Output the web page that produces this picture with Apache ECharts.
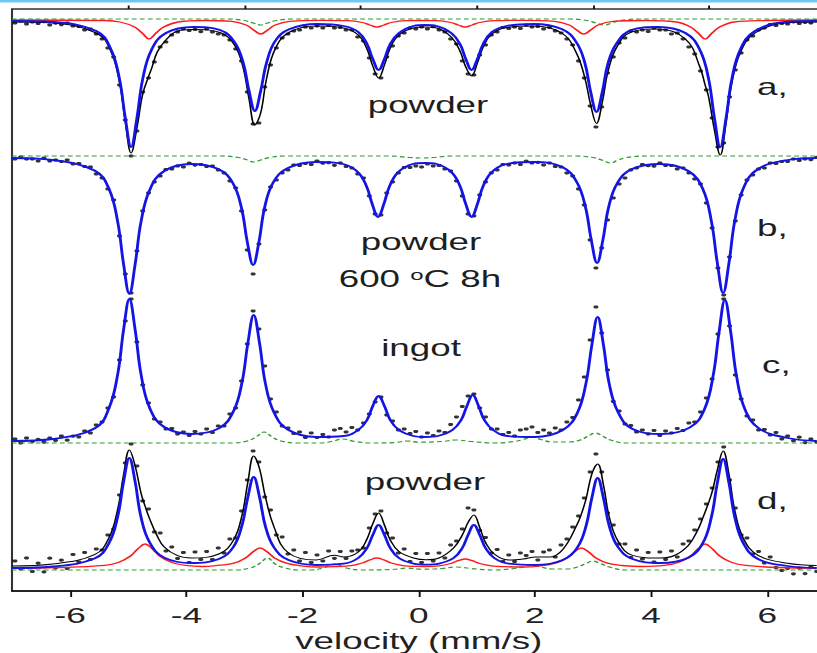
<!DOCTYPE html>
<html><head><meta charset="utf-8">
<script src="https://cdn.jsdelivr.net/npm/echarts@6.0.0/dist/echarts.min.js"></script>
<style>
html,body{margin:0;padding:0;width:817px;height:653px;overflow:hidden;background:#fff}
#wrap{width:817px;height:653px;overflow:hidden;position:relative}
#chart{width:511px;height:653px;transform:scaleX(1.598826);transform-origin:0 0}
</style></head><body><div id="wrap"><div id="chart"></div></div>
<script>
// ---------------- DATA ----------------
const xTicks = [-6, -4, -2, 0, 2, 4, 6];
const xMinorTicks = [-5, -3, -1, 1, 3, 5];
const panelLabels = ['a,', 'b,', 'c,', 'd,'];
const sampleLabels = ['powder', 'powder', '600 {s|o}C 8h', 'ingot', 'powder'];

const velocity = [-6.95,-6.85,-6.75,-6.65,-6.55,-6.45,-6.35,-6.25,-6.15,-6.05,-5.95,-5.85,-5.75,-5.65,-5.55,-5.45,-5.35,-5.25,-5.15,-5.05,-4.95,-4.85,-4.75,-4.65,-4.55,-4.45,-4.35,-4.25,-4.15,-4.05,-3.95,-3.85,-3.75,-3.65,-3.55,-3.45,-3.35,-3.25,-3.15,-3.05,-2.95,-2.85,-2.75,-2.65,-2.55,-2.45,-2.35,-2.25,-2.15,-2.05,-1.95,-1.85,-1.75,-1.65,-1.55,-1.45,-1.35,-1.25,-1.15,-1.05,-0.95,-0.85,-0.75,-0.65,-0.55,-0.45,-0.35,-0.25,-0.15,-0.05,0.05,0.15,0.25,0.35,0.45,0.55,0.65,0.75,0.85,0.95,1.05,1.15,1.25,1.35,1.45,1.55,1.65,1.75,1.85,1.95,2.05,2.15,2.25,2.35,2.45,2.55,2.65,2.75,2.85,2.95,3.05,3.15,3.25,3.35,3.45,3.55,3.65,3.75,3.85,3.95,4.05,4.15,4.25,4.35,4.45,4.55,4.65,4.75,4.85,4.95,5.05,5.15,5.25,5.35,5.45,5.55,5.65,5.75,5.85,5.95,6.05,6.15,6.25,6.35,6.45,6.55,6.65,6.75,6.85];

// panel a (powder) measured counts
const aCounts = [996,998,995,997,995.5,997.3,994,995.8,994.4,996,
993,992.5,989,990,985,980,971,962,934,899,
863,888,927,941,957,972,977,984,987,990,
988.5,989.5,987.3,990,987,985,984,979,970,958,
927,895,896,932,954,971,981,985,988,989,
992,991,993,991,993.5,991,991.5,989,989,982,
978,961,945,941,962,973,983,986,991,990,
992,990,992.3,989,987,980,975,958,945,944,
964,974,984,987,991.5,990.5,992,990.5,994,992,
992.5,990,991.5,988,986,980,974,958,941,913,
892,912,946,962,976,981,988,987,989,987.5,
991,989,989,985,986,980,972,965,948,929,
901,872,876,922,949,966,979,983,989,991,
994.5,993.5,995.5,995,997.2,995.5,996.7,996,998];

// panel b (powder 600 C 8h)
const bCounts = [997,999,997,997,995,998,995,996,994.5,996,
992,992.5,989.5,989,982,978,967,956,920,882,
863,905,945,963,974,980,986.5,987,990,989,
992.8,990.9,991.5,989.5,990,986,983,975,968,945,
906,882,912,946,969,976,983,986,991,990.5,
992.5,991.5,995,992.8,993.3,990.7,993,989.5,988,982,
978,960,942,941,963,974,983,988.5,988.5,990,
989,992,990,990.5,987,985,975,960,942,940,
961,974,983,986,991.5,991,993,991.5,994.8,993,
993.7,991,993,989.5,989,983,980,967,951,916,
888,908,936,958,972,978,986,988,991.5,990.3,
989.8,993,990.5,990.5,987,988,983,977,972,953,
928,888,861,899,935,961,976,981,987,988,
993,992.5,994.5,994.5,997,995.5,997,996.3,998.6];

// panel c (ingot)
const cCounts = [1004,1000,1005,1001.4,1003.6,1000.8,1005,1002.6,1007,1002.8,
1006.8,1006,1012,1010,1018,1021,1035,1046,1083,1122,
1144,1101,1058,1040,1024,1021,1014,1014.5,1009,1011,
1007.5,1011.5,1009,1014,1010.5,1017,1017,1029,1035,1062,
1099,1132,1114,1077,1044,1031,1017,1015,1009.5,1011,
1005.5,1010,1005.5,1008.5,1006,1013,1014.5,1011,1015.5,1013,
1020,1029,1041,1046,1028,1022,1013,1014,1009.5,1011.5,
1006,1010,1007.5,1012,1010.5,1018.5,1026,1036.5,1047,1049,
1035,1026,1014,1014,1008.5,1010.5,1007,1013,1014,1016,
1010.5,1013,1010,1015,1013,1021,1025.5,1043,1066,1103,
1136,1110,1073,1041.5,1032,1019,1017.5,1011,1013,1009,
1012.5,1007.5,1012,1010,1014.5,1012.5,1020,1021,1031,1045,
1064,1109,1144,1117,1068,1044,1027,1023,1013,1013.5,
1008,1010.5,1004,1007,1002.3,1005.8,1000.4,1004,1000.8];

// panel d (powder)
const dCounts = [1009,1001,1012,998.5,1006.8,998.2,1011.8,1002.2,1009.8,1001.5,
1015.5,1008,1017.5,1010.5,1021,1020,1035,1041,1075,1107,
1126,1104,1069,1061,1038,1037,1019,1023,1011.5,1017.5,
1007.5,1018,1010.5,1018.5,1010.5,1022,1017,1031,1032,1059,
1090,1119,1108,1073,1060,1035,1033,1016,1020,1009,
1017.5,1007.5,1015,1009,1019,1011.7,1018.5,1011.5,1019,1020,
1022,1042,1056,1059,1037,1032,1017,1021,1008.5,1016.5,
1007.5,1016.5,1009,1017,1012,1025,1029,1041,1062,1060,
1039.5,1032.5,1017,1020.5,1008.5,1015,1008.5,1017,1014.5,1018.5,
1010,1018,1020,1013,1025,1031,1043,1054,1072,1098,
1116,1098,1057,1045,1026,1026,1012.5,1020,1011,1017.5,
1008,1018,1010.5,1019,1013,1026,1029,1040,1051,1066,
1082,1108,1123,1090,1062,1035,1032,1016,1018.5,1007,
1013,1002.5,999.5,1001.7,996.2,1001.8,996.4,1003,998.5];

// fitted components [velocity, counts]
const aBlue = [[-7,998],[-6.3,997],[-5.55,988],[-5.3,970],[-5.15,940],[-5.05,901],[-4.95,872],[-4.85,901],[-4.75,940],[-4.6,969],[-4.35,986],[-3.88,992],[-3.42,989],[-3.17,977],[-3.02,956],[-2.92,928],[-2.82,908],[-2.72,928],[-2.62,956],[-2.47,978],[-2.22,990],[-1.75,995],[-1.29,993],[-1.04,987],[-0.89,975],[-0.79,960],[-0.69,949],[-0.59,960],[-0.49,975],[-0.34,986],[-0.09,993],[0.11,994],[0.31,993],[0.56,986],[0.71,975],[0.81,960],[0.91,949],[1.01,960],[1.11,975],[1.26,987],[1.51,993],[1.98,995],[2.46,990],[2.71,977],[2.86,956],[2.96,927],[3.06,907],[3.16,927],[3.26,956],[3.41,976],[3.66,989],[4.12,992],[4.59,986],[4.84,969],[4.99,940],[5.09,901],[5.19,872],[5.29,901],[5.39,940],[5.54,970],[5.79,988],[6.3,997],[6.85,998]];
const aRed = [[-7,999],[-5.4,998.5],[-5.14,997],[-4.89,992],[-4.76,986],[-4.64,980],[-4.52,986],[-4.39,992],[-4.14,997],[-3.7,998.5],[-3.22,997.6],[-2.97,994],[-2.84,989],[-2.72,985],[-2.6,989],[-2.47,994],[-2.22,997.6],[-1.7,998.7],[-1.22,998.3],[-0.97,996.5],[-0.84,994],[-0.72,992],[-0.6,994],[-0.47,996.5],[-0.22,998.3],[0.04,998.5],[0.3,998.3],[0.55,996.5],[0.68,994],[0.8,992],[0.92,994],[1.05,996.5],[1.3,998.3],[1.8,998.7],[2.34,997.6],[2.59,994],[2.72,989],[2.84,985],[2.96,989],[3.09,994],[3.34,997.6],[3.9,998.5],[4.43,997],[4.68,992],[4.81,986],[4.93,980],[5.05,986],[5.18,992],[5.43,997],[6.0,998.5],[6.85,999]];
const aGreen = [[-7,1000],[-3.3,1000],[-3.0,998.5],[-2.85,996],[-2.72,994],[-2.6,996],[-2.45,998.5],[-2.15,1000],[2.6,1000],[2.9,998.5],[3.05,996],[3.2,994],[3.32,996],[3.47,998.5],[3.8,1000],[6.85,1000]];
const aFit = [[-7,997],[-6.3,996],[-5.55,986],[-5.3,968],[-5.15,937],[-5.05,897],[-4.95,866],[-4.85,891],[-4.75,925],[-4.64,944],[-4.6,950],[-4.5,967],[-4.35,979],[-4.15,988],[-3.88,989.5],[-3.42,986.5],[-3.17,974],[-3.02,951],[-2.92,920],[-2.82,894],[-2.72,906],[-2.62,940],[-2.47,970],[-2.22,987],[-1.75,993],[-1.29,991],[-1.04,984],[-0.89,970],[-0.79,953],[-0.69,941],[-0.59,954],[-0.49,971],[-0.34,984],[-0.09,991],[0.11,992],[0.31,991],[0.56,982],[0.71,968],[0.81,952],[0.91,943],[1.01,956],[1.11,972],[1.26,985],[1.51,991.5],[1.98,993],[2.46,986],[2.71,966.5],[2.86,941],[2.96,914],[3.06,895.5],[3.16,917],[3.26,948],[3.41,972],[3.66,987],[4.12,990],[4.59,980],[4.84,952],[4.93,934],[4.99,922],[5.09,889],[5.19,864],[5.29,896],[5.39,936],[5.54,967],[5.79,986],[6.3,996],[6.85,997]];

const bBlue = [[-7,998],[-6.3,996],[-5.58,985.5],[-5.33,967],[-5.18,934],[-5.08,892],[-4.98,862],[-4.88,892],[-4.78,934],[-4.63,966],[-4.38,985],[-3.915,992],[-3.45,987],[-3.2,973],[-3.05,948],[-2.95,914],[-2.85,891],[-2.75,914],[-2.65,949],[-2.5,974],[-2.25,988],[-1.775,994],[-1.3,992],[-1.05,984],[-0.9,970],[-0.8,952],[-0.7,939],[-0.6,952],[-0.5,970],[-0.35,984],[-0.1,992],[0.105,993],[0.31,992],[0.56,984],[0.71,970],[0.81,952],[0.91,939],[1.01,952],[1.11,970],[1.26,984],[1.51,992],[1.99,994],[2.47,989],[2.72,974],[2.87,949],[2.97,916],[3.07,893],[3.17,916],[3.27,949],[3.42,973],[3.67,987],[4.155,992],[4.64,985],[4.89,967],[5.04,934],[5.14,893],[5.24,863],[5.34,893],[5.44,935],[5.59,968],[5.84,987],[6.35,996],[6.85,998]];
const bGreen = [[-7,1000],[-3.4,1000],[-3.1,998.5],[-2.95,996],[-2.84,994],[-2.72,996],[-2.57,998.5],[-2.3,1000],[-0.5,1000],[-0.15,998.5],[0.05,998],[0.25,998.5],[0.6,1000],[2.7,1000],[3.0,998.5],[3.15,996],[3.3,993],[3.43,996],[3.58,998.5],[3.9,1000],[6.85,1000]];

const cBlue = [[-7,1002],[-6.3,1004],[-5.58,1014.5],[-5.33,1035],[-5.18,1069],[-5.08,1113],[-4.98,1144],[-4.88,1113],[-4.78,1069],[-4.63,1035],[-4.38,1016],[-3.91,1009],[-3.44,1014.6],[-3.19,1031.5],[-3.04,1061],[-2.94,1100],[-2.84,1128],[-2.74,1100],[-2.64,1060],[-2.49,1030.5],[-2.24,1013],[-1.765,1006],[-1.29,1007],[-1.04,1013],[-0.89,1023],[-0.79,1037],[-0.69,1047],[-0.59,1037],[-0.49,1023],[-0.34,1013],[-0.09,1007],[0.12,1006],[0.33,1007],[0.58,1013],[0.73,1023],[0.83,1037],[0.93,1048],[1.03,1037],[1.13,1023],[1.28,1013],[1.53,1007],[2.005,1006],[2.48,1013],[2.73,1030],[2.88,1060],[2.98,1098],[3.08,1126],[3.18,1098],[3.28,1059],[3.43,1031],[3.68,1014],[4.175,1009],[4.67,1015.6],[4.92,1034],[5.07,1068],[5.17,1111],[5.27,1143],[5.37,1111],[5.47,1067],[5.62,1033],[5.87,1014],[6.35,1005],[6.85,1002]];
const cGreen = [[-7,1000],[-3.2,1000],[-2.95,1002],[-2.8,1006],[-2.66,1011],[-2.52,1006],[-2.37,1002],[-2.1,1000],[-1.7,1000],[-1.5,1001.5],[-1.3,1004],[-1.1,1001.5],[-0.8,1000],[-0.4,1000.5],[-0.2,1002],[0,1000.8],[0.4,1001.5],[0.65,1003],[0.9,1001.5],[1.3,1000],[1.65,1001.5],[1.8,1003.5],[1.95,1006],[2.1,1003.5],[2.3,1001],[2.6,1001],[2.78,1003],[2.92,1007],[3.04,1010],[3.16,1007],[3.3,1003],[3.55,1000],[6.85,1000]];

const dBlue = [[-7,1002],[-6.3,1003.5],[-5.58,1011.4],[-5.33,1027],[-5.18,1053.6],[-5.08,1088],[-4.98,1112],[-4.88,1088],[-4.78,1053],[-4.63,1027.5],[-4.38,1012.4],[-3.91,1007],[-3.44,1011],[-3.19,1023],[-3.04,1045],[-2.94,1073],[-2.84,1093],[-2.74,1073],[-2.64,1044],[-2.49,1022.5],[-2.24,1010],[-1.765,1005],[-1.29,1006.3],[-1.04,1012],[-0.89,1022],[-0.79,1035],[-0.69,1045],[-0.59,1035],[-0.49,1022],[-0.34,1012],[-0.09,1006.4],[0.13,1005.3],[0.35,1006.4],[0.6,1012],[0.75,1022],[0.85,1035],[0.95,1045],[1.05,1035],[1.15,1022],[1.3,1012],[1.55,1006.3],[2.015,1005],[2.48,1010],[2.73,1022.5],[2.88,1044],[2.98,1072],[3.08,1092],[3.18,1072],[3.28,1044],[3.43,1023],[3.68,1011],[4.16,1007],[4.64,1012.3],[4.89,1027],[5.04,1053.5],[5.14,1087],[5.24,1111],[5.34,1087],[5.44,1053],[5.59,1026.5],[5.84,1011],[6.35,1004],[6.85,1002]];
const dRed = [[-7,1002],[-6.2,1002.5],[-5.41,1004.6],[-5.16,1007.8],[-4.96,1014],[-4.83,1021.4],[-4.71,1026],[-4.59,1021.4],[-4.46,1014],[-4.26,1007.8],[-4.01,1004.6],[-3.72,1003.5],[-3.43,1004.8],[-3.18,1006.8],[-2.98,1012],[-2.85,1018.2],[-2.73,1022],[-2.61,1018.2],[-2.48,1012],[-2.28,1006.8],[-2.03,1004.2],[-1.72,1003],[-1.42,1003.5],[-1.17,1004.4],[-0.97,1007],[-0.84,1010.1],[-0.72,1012],[-0.6,1010.1],[-0.47,1007],[-0.27,1004.4],[-0.02,1003.6],[0.1,1003.5],[0.35,1004.2],[0.55,1006.5],[0.68,1009.3],[0.8,1011],[0.92,1009.3],[1.05,1006.5],[1.25,1004.2],[1.5,1003.3],[1.8,1003],[2.1,1004.2],[2.35,1006.8],[2.55,1012],[2.68,1018.2],[2.8,1022],[2.92,1018.2],[3.05,1012],[3.25,1006.8],[3.5,1004.5],[3.85,1003.5],[4.23,1004.6],[4.48,1007.8],[4.68,1014],[4.81,1021.4],[4.93,1026],[5.05,1021.4],[5.18,1014],[5.38,1007.8],[5.63,1004.6],[6.2,1002.5],[6.85,1002]];
const dGreen = [[-7,1000],[-3.15,1000],[-2.9,1002],[-2.75,1006],[-2.6,1012],[-2.47,1006],[-2.3,1002],[-2.05,1000],[-1.85,1000],[-1.65,1002],[-1.45,1006],[-1.25,1002],[-1.0,1000],[-0.45,1000.5],[-0.2,1002],[0.05,1000.8],[0.4,1001.5],[0.65,1003],[0.9,1001.5],[1.3,1000],[1.65,1001.5],[1.8,1003],[1.95,1005],[2.1,1003],[2.3,1001],[2.55,1001],[2.73,1003],[2.88,1006.5],[3.0,1009],[3.13,1006.5],[3.28,1003],[3.55,1000],[6.85,1000]];
const dFit = [[-7,1004],[-6.3,1006],[-5.58,1015.3],[-5.33,1032.4],[-5.18,1061],[-5.08,1095],[-4.98,1120],[-4.88,1104],[-4.78,1077],[-4.71,1064],[-4.63,1051],[-4.5,1034],[-4.38,1023],[-4.15,1014.3],[-3.91,1012],[-3.44,1016],[-3.19,1029.6],[-3.04,1055],[-2.94,1088],[-2.84,1114],[-2.74,1101.5],[-2.64,1073.5],[-2.49,1043],[-2.24,1017],[-1.765,1010],[-1.45,1014.7],[-1.29,1013],[-1.04,1018],[-0.89,1031],[-0.79,1046.3],[-0.69,1057],[-0.59,1045],[-0.49,1030],[-0.34,1018.5],[-0.09,1012],[0.13,1010.2],[0.35,1012],[0.6,1022],[0.75,1035],[0.85,1047.6],[0.95,1055],[1.05,1042.5],[1.15,1027.5],[1.3,1016],[1.55,1010],[1.8,1011],[2.015,1013],[2.25,1013],[2.48,1020.6],[2.73,1046],[2.8,1056],[2.88,1071],[2.98,1096],[3.08,1106],[3.18,1085],[3.28,1053],[3.43,1029],[3.68,1014.6],[4.16,1012],[4.4,1014.5],[4.64,1024.6],[4.79,1038.5],[4.89,1052],[5.04,1076],[5.14,1100],[5.24,1119],[5.34,1095.6],[5.44,1059.6],[5.59,1031.4],[5.84,1014.7],[6.35,1006.7],[6.85,1004.4]];

// ---------------- LAYOUT ----------------
const SX = 817 / 511;              // horizontal stretch applied by CSS
const px = x => x / SX;            // image x -> chart x
const FONT = '"Liberation Sans", Arial, Helvetica, sans-serif';
const FRAME = { left: px(12), top: 9, height: 582, width: px(58.1 * 14) };
const BASE = [19, 156, 443, 570];  // baseline row (px) of each panel
const C = { blue: '#1414e6', red: '#ff1a1a', green: '#2f9a2f', black: '#000' };

const grids = BASE.map((b, i) => Object.assign({}, FRAME, {
  show: i === 0, borderColor: '#333', borderWidth: 1.3, backgroundColor: 'transparent',
  containLabel: false, outerBoundsMode: 'none'
}));
const yAxes = BASE.map((b, i) => ({
  type: 'value', gridIndex: i, show: false, min: 1000 + b - 591, max: 1000 + b - 9
}));
const xAxes = [
  { type: 'value', gridIndex: 0, min: -7, max: 7, interval: 1,
    axisLine: { lineStyle: { color: '#111', width: 1.5 } },
    axisTick: { customValues: xTicks, length: 6, lineStyle: { color: '#111', width: 1.2 } },
    axisLabel: { fontSize: 22, fontFamily: FONT, color: '#222', margin: 13, hideOverlap: false,
      formatter: v => (xTicks.indexOf(v) >= 0 ? String(v) : '') },
    splitLine: { show: false },
    name: 'velocity (mm/s)', nameLocation: 'middle', nameGap: 38, nameMoveOverlap: false,
    nameTextStyle: { fontSize: 23, fontFamily: FONT, color: '#222', verticalAlign: 'top' } },
  { type: 'value', gridIndex: 0, min: -7, max: 7, interval: 1,
    axisLine: { show: false }, axisLabel: { show: false }, splitLine: { show: false },
    axisTick: { customValues: xMinorTicks, length: 3.5, lineStyle: { color: '#111', width: 1.2 } } },
  { type: 'value', gridIndex: 1, min: -7, max: 7, show: false },
  { type: 'value', gridIndex: 2, min: -7, max: 7, show: false },
  { type: 'value', gridIndex: 3, min: -7, max: 7, show: false }
];
const XI = [0, 2, 3, 4];

function dots(arr, p) {
  return { type: 'scatter', xAxisIndex: XI[p], yAxisIndex: p, z: 2, silent: true,
    symbol: 'circle', symbolSize: 3.2, itemStyle: { color: '#000' },
    data: velocity.map((v, i) => [v, arr[i]]) };
}
function curve(data, p, color, width, z, dash) {
  return { type: 'line', xAxisIndex: XI[p], yAxisIndex: p, z: z, silent: true,
    showSymbol: false, smooth: 0.4, data: data,
    lineStyle: { color: color, width: width, type: dash || 'solid' } };
}
const series = [
  dots(aCounts, 0), curve(aFit, 0, C.black, 1, 3), curve(aGreen, 0, C.green, 1.2, 4, [3, 2]),
  curve(aRed, 0, C.red, 1.3, 5), curve(aBlue, 0, C.blue, 1.8, 6),
  dots(bCounts, 1), curve(bGreen, 1, C.green, 1.2, 4, [3, 2]), curve(bBlue, 1, C.blue, 1.8, 6),
  dots(cCounts, 2), curve(cGreen, 2, C.green, 1.2, 4, [3, 2]), curve(cBlue, 2, C.blue, 1.8, 6),
  dots(dCounts, 3), curve(dFit, 3, C.black, 1, 3), curve(dGreen, 3, C.green, 1.2, 4, [3, 2]),
  curve(dRed, 3, C.red, 1.3, 5), curve(dBlue, 3, C.blue, 1.8, 6)
];

function txt(s, x, y, align) {
  return { type: 'text', x: x, y: y, z: 20, silent: true,
    style: { text: s, fill: '#1e1e1e', font: '23px ' + FONT, fontSize: 23, fontFamily: FONT,
      textAlign: align, align: align, textVerticalAlign: 'middle', verticalAlign: 'middle',
      rich: { s: { fontSize: 15, fontFamily: FONT, verticalAlign: 'top', fill: '#1e1e1e' } } } };
}
const graphic = [
  { type: 'rect', shape: { x: 0, y: 0, width: 520, height: 2.5 }, style: { fill: '#6cc8f0' }, silent: true, z: 20 },
  txt(sampleLabels[0], px(428), 105, 'center'),
  txt(sampleLabels[1], px(421), 242, 'center'),
  txt(sampleLabels[2], px(420), 279, 'center'),
  txt(sampleLabels[3], px(421), 348, 'center'),
  txt(sampleLabels[4], px(425), 482, 'center'),
  txt(panelLabels[0], px(757), 87, 'left'),
  txt(panelLabels[1], px(757), 228, 'left'),
  txt(panelLabels[2], px(762), 365, 'left'),
  txt(panelLabels[3], px(757), 501, 'left')
];

const chart = echarts.init(document.getElementById('chart'), null, { renderer: 'svg' });
chart.setOption({
  animation: false,
  backgroundColor: '#fff',
  grid: grids, xAxis: xAxes, yAxis: yAxes, series: series, graphic: graphic
});
</script></body></html>
